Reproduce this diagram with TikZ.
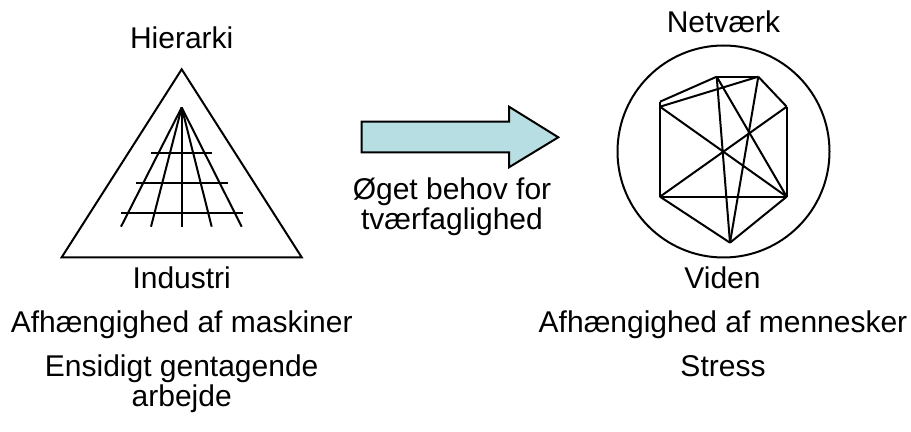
\documentclass[tikz,border=0pt]{standalone}
\usepackage{fontspec}
\setmainfont{Liberation Sans}
\definecolor{arrowfill}{RGB}{183,222,226}

\begin{document}
\begin{tikzpicture}[x=0.5pt,y=-0.5pt,line width=1pt,
  lbl/.style={anchor=base,align=center,font=\fontsize{15}{15}\selectfont}]
\useasboundingbox (0,0) rectangle (911,432);
% pyramid with its fan
\draw (181.7,69.3) -- (61.7,257.3) -- (301.7,257.3) -- cycle;
\coordinate (fan) at (181.7,107.5);
\foreach \x in {121,151,181.7,211.7,241.7}{
  \draw (fan) -- (\x,226.7);
};
\foreach \y/\w in {152.7/30.7,182.7/45.8,212.7/60.8}{
  \draw (181.7-\w,\y) -- (181.7+\w,\y);
};
% network in a circle
\draw (723.5,151.5) circle (106);
\coordinate (a) at (716.7,76.7);
\coordinate (b) at (758.3,76.7);
\coordinate (c) at (786.7,106.7);
\coordinate (d) at (786.7,196.7);
\coordinate (e) at (730,242.7);
\coordinate (f) at (660,196.7);
\coordinate (g) at (660,101.7);
\coordinate (h) at (660,106.7);
\foreach \p/\q in {a/b,b/c,c/d,d/e,e/f,f/g,g/a,h/b,h/d,f/c,f/d,a/d,a/e,b/e}{
  \draw[line join=round] (\p) -- (\q);
};
% arrow
\draw[fill=arrowfill] (361.7,121.7) -- (509,121.7) -- (509,106.7) -- (558.3,137.3)
  -- (509,167.3) -- (509,152.3) -- (361.7,152.3) -- cycle;
% texts
\node[lbl] (hierarki) at (181.7,48.3) {Hierarki};
\node[lbl] (netvaerk) at (723.5,33) {Netværk};
\node[lbl] (behov) at (452,230) {Øget behov for\\tværfaglighed};
\node[lbl] (industri) at (181.7,288.3) {Industri};
\node[lbl] (viden) at (722.5,288.3) {Viden};
\node[lbl] (maskiner) at (181.7,333) {Afhængighed af maskiner};
\node[lbl] (mennesker) at (723,333) {Afhængighed af mennesker};
\node[lbl] (ensidigt) at (181.7,407) {Ensidigt gentagende\\arbejde};
\node[lbl] (stress) at (723,377) {Stress};
\end{tikzpicture}
\end{document}
